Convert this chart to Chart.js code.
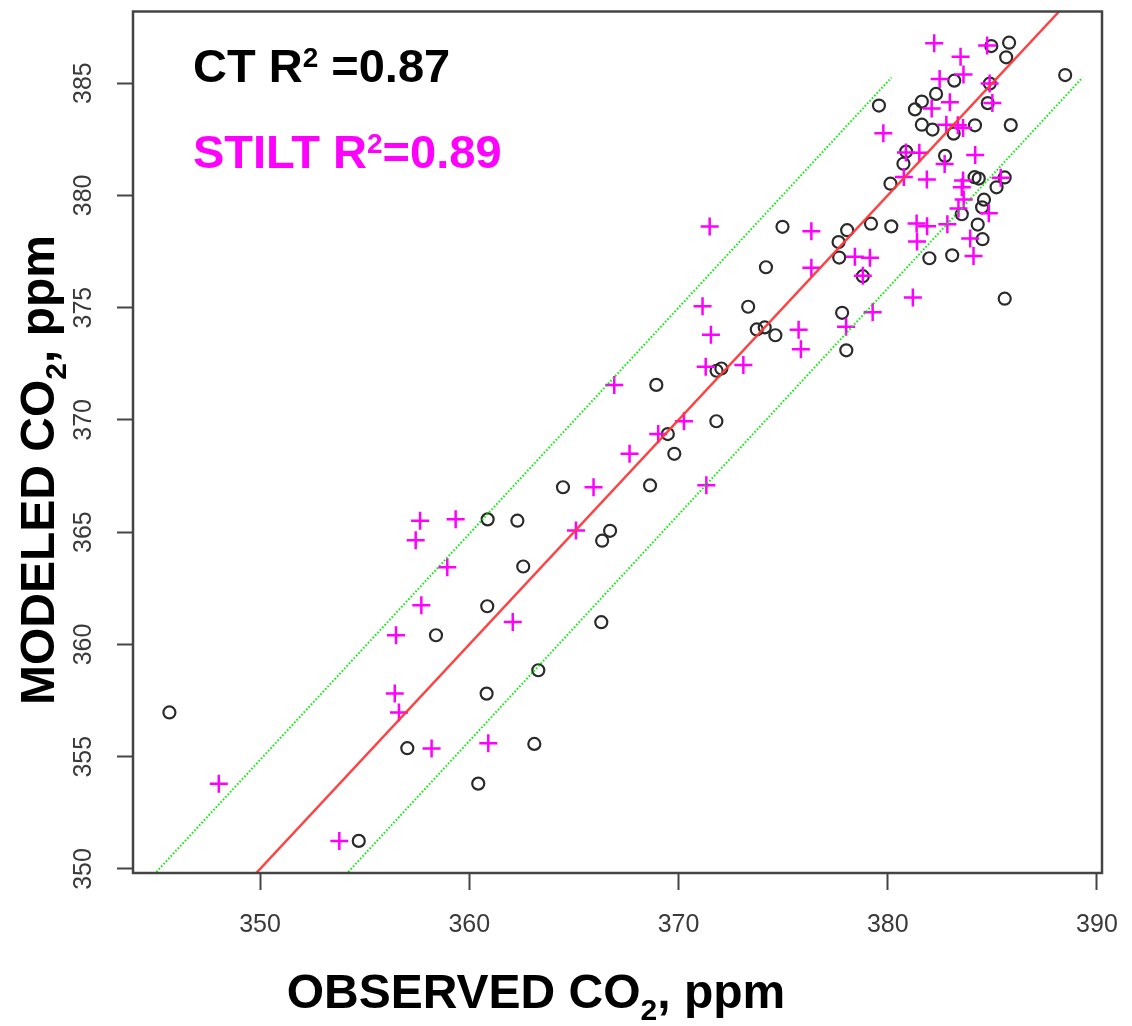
<!DOCTYPE html>
<html>
<head>
<meta charset="utf-8">
<script src="https://cdn.jsdelivr.net/npm/chart.js@4/dist/chart.umd.min.js"></script>
<style>
  html, body { margin: 0; padding: 0; background: #ffffff; }
  #wrap { width: 1132px; height: 1026px; }
</style>
</head>
<body>
<div id="wrap"><canvas id="co2Scatter" width="1132" height="1026"></canvas></div>
<script>
//
//
// Data - observed vs modeled CO2 (ppm)
var ctObserved = [345.67, 354.72, 357.04, 358.41, 360.43, 360.83, 360.86, 360.88, 362.30, 362.58,
  363.11, 363.30, 364.48, 366.35, 366.73, 366.31, 368.64, 368.94, 369.49, 369.80,
  371.81, 371.82, 372.05, 373.33, 373.74, 374.12, 374.18, 374.63, 374.97, 377.65,
  377.68, 377.82, 378.02, 378.06, 378.81, 379.20, 379.58, 380.13, 380.17, 380.75,
  380.88, 381.30, 381.63, 381.63, 381.99, 382.14, 382.31, 382.74, 383.08, 383.15,
  383.18, 383.54, 384.15, 384.17, 384.30, 384.35, 384.53, 384.51, 384.60, 384.78,
  384.88, 384.95, 385.20, 385.59, 385.59, 385.66, 385.80, 385.88, 388.48];
var ctModeled = [356.97, 351.25, 355.38, 360.41, 353.80, 357.81, 361.70, 365.57, 365.51, 363.47,
  355.57, 358.85, 367.00, 364.62, 365.06, 360.99, 367.08, 371.56, 369.37, 368.49,
  369.94, 372.19, 372.29, 375.04, 374.03, 374.12, 376.80, 373.77, 378.60, 377.92,
  377.23, 374.77, 373.10, 378.45, 376.40, 378.74, 384.00, 380.52, 378.62, 381.41,
  381.95, 383.83, 384.18, 383.15, 377.20, 382.93, 384.52, 381.76, 377.33, 382.75,
  385.11, 379.16, 380.81, 383.12, 378.70, 380.75, 378.05, 379.47, 379.81, 384.11,
  384.98, 386.65, 380.36, 380.80, 375.40, 386.15, 386.80, 383.13, 385.36];

var stiltObserved = [348.03, 353.79, 356.44, 356.50, 356.64, 357.44, 357.65, 357.71, 358.20, 358.95,
  359.35, 360.91, 362.08, 365.10, 365.94, 366.93, 367.66, 369.03, 370.26, 371.15,
  371.30, 371.33, 371.49, 371.55, 373.10, 375.74, 375.85, 376.35, 376.35, 378.01,
  378.43, 378.81, 379.15, 379.28, 379.79, 380.77, 380.87, 381.20, 381.38, 381.40,
  381.51, 381.87, 381.88, 382.10, 382.22, 382.48, 382.72, 382.85, 382.97, 382.80,
  383.35, 383.60, 383.38, 383.48, 383.54, 383.60, 383.62, 383.63, 383.94, 384.10,
  384.18, 384.75, 384.83, 384.87, 385.00, 385.40];
var stiltModeled = [353.80, 351.25, 357.81, 360.41, 356.97, 364.64, 365.51, 361.75, 355.37, 363.44,
  365.58, 355.60, 361.00, 365.07, 367.00, 371.56, 368.49, 369.37, 369.94, 375.06,
  372.37, 367.09, 378.61, 373.79, 372.45, 374.02, 373.15, 378.40, 376.78, 374.15,
  377.27, 376.42, 377.22, 374.79, 382.77, 380.82, 381.91, 375.45, 378.75, 377.95,
  381.90, 380.71, 378.62, 383.87, 386.78, 385.18, 381.40, 378.71, 384.15, 383.15,
  383.12, 383.00, 379.42, 386.17, 380.36, 380.66, 385.38, 379.82, 378.08, 377.30,
  381.80, 386.68, 379.20, 384.98, 384.11, 380.79];

//
// Reference lines (end points, ppm)
var oneToOneX = [349.82, 388.19];
var oneToOneY = [349.82, 388.19];
var upperBandX = [345.05, 380.18];
var upperBandY = [349.87, 385.25];
var lowerBandX = [354.22, 389.31];
var lowerBandY = [349.87, 385.25];

//
// Axes
var xTicks = [350, 360, 370, 380, 390];
var yTicks = [350, 355, 360, 365, 370, 375, 380, 385];
var xRange = [343.93, 390.24];
var yRange = [349.82, 388.19];

var FONT = '"Liberation Sans", Arial, Helvetica, sans-serif';

function toPoints(xs, ys){
  var points = [];
  for (var i = 0; i < xs.length; i++){
    points.push({ x: xs[i], y: ys[i] });
  }
  return points;
}

//
//
// Draw text made of pieces (for super / subscripts)
function drawPieces(ctx, pieces, x, y, centered){
  var total = 0;
  pieces.forEach(function(p){
    ctx.font = 'bold ' + p.size + 'px ' + FONT;
    p.w = ctx.measureText(p.text).width;
    total += p.w;
  });
  var cx = centered ? x - total / 2 : x;
  pieces.forEach(function(p){
    ctx.font = 'bold ' + p.size + 'px ' + FONT;
    ctx.fillText(p.text, cx, y + p.dy);
    cx += p.w;
  });
}

//
//
// Box, R^2 labels and axis titles
var frameAndTitles = {
  id: 'frameAndTitles',
  afterDraw: function(chart){
    var ctx = chart.ctx;
    var area = chart.chartArea;

    ctx.save();
    ctx.strokeStyle = '#444444';
    ctx.lineWidth = 2.5;
    ctx.strokeRect(area.left, area.top, area.right - area.left, area.bottom - area.top);

    ctx.textBaseline = 'alphabetic';
    ctx.textAlign = 'left';

    ctx.fillStyle = '#000000';
    drawPieces(ctx, [
      { text: 'CT R', size: 47, dy: 0 },
      { text: '2', size: 28, dy: -15 },
      { text: ' =0.87', size: 47, dy: 0 }
    ], 193, 82, false);

    ctx.fillStyle = '#ff00ff';
    drawPieces(ctx, [
      { text: 'STILT R', size: 47, dy: 0 },
      { text: '2', size: 28, dy: -15 },
      { text: '=0.89', size: 47, dy: 0 }
    ], 193, 168, false);

    ctx.fillStyle = '#000000';
    drawPieces(ctx, [
      { text: 'OBSERVED CO', size: 48, dy: 0 },
      { text: '2', size: 30, dy: 12 },
      { text: ', ppm', size: 48, dy: 0 }
    ], 536, 1008, true);

    ctx.translate(54, 470);
    ctx.rotate(-Math.PI / 2);
    drawPieces(ctx, [
      { text: 'MODELED CO', size: 48, dy: 0 },
      { text: '2', size: 30, dy: 12 },
      { text: ', ppm', size: 48, dy: 0 }
    ], 0, 0, true);

    ctx.restore();
  }
};

//
//
// Draw Chart
var co2_canvas = document.getElementById('co2Scatter');
var co2_ctx = co2_canvas.getContext('2d');

new Chart(co2_ctx, {
  type: 'scatter',
  data: {
    datasets: [
      {
        label: '1:1',
        data: toPoints(oneToOneX, oneToOneY),
        showLine: true,
        borderColor: 'rgba(255, 55, 55, 0.95)',
        borderWidth: 2.5,
        pointRadius: 0,
        fill: false,
        order: 0
      },
      {
        label: 'upper',
        data: toPoints(upperBandX, upperBandY),
        showLine: true,
        borderColor: '#00ee00',
        borderWidth: 2,
        borderDash: [1.5, 2],
        pointRadius: 0,
        fill: false,
        order: 0
      },
      {
        label: 'lower',
        data: toPoints(lowerBandX, lowerBandY),
        showLine: true,
        borderColor: '#00ee00',
        borderWidth: 2,
        borderDash: [1.5, 2],
        pointRadius: 0,
        fill: false,
        order: 0
      },
      {
        label: 'STILT',
        data: toPoints(stiltObserved, stiltModeled),
        pointStyle: 'cross',
        pointRadius: 9,
        borderColor: '#ff00ff',
        borderWidth: 2.5,
        order: 1
      },
      {
        label: 'CT',
        data: toPoints(ctObserved, ctModeled),
        pointStyle: 'circle',
        pointRadius: 6,
        backgroundColor: 'rgba(0, 0, 0, 0)',
        borderColor: '#2a2a2a',
        borderWidth: 2.2,
        order: 2
      }
    ]
  },
  options: {
    responsive: false,
    animation: false,
    events: [],
    layout: {
      padding: { top: 7, right: 30, left: 0, bottom: 0 }
    },
    plugins: {
      legend: { display: false },
      tooltip: { enabled: false }
    },
    scales: {
      x: {
        type: 'linear',
        min: xRange[0],
        max: xRange[1],
        afterBuildTicks: function(scale){
          scale.ticks = xTicks.map(function(v){ return { value: v }; });
        },
        afterFit: function(scale){
          scale.height = 153;
          scale.paddingLeft = 0;
          scale.paddingRight = 0;
        },
        grid: {
          drawOnChartArea: false,
          drawTicks: true,
          tickLength: 17,
          tickColor: '#444444',
          tickWidth: 2
        },
        border: { display: false },
        ticks: {
          autoSkip: false,
          minRotation: 0,
          maxRotation: 0,
          padding: 20,
          color: '#3a3a3a',
          font: { family: FONT, size: 25 }
        }
      },
      y: {
        type: 'linear',
        min: yRange[0],
        max: yRange[1],
        afterBuildTicks: function(scale){
          scale.ticks = yTicks.map(function(v){ return { value: v }; });
        },
        afterFit: function(scale){
          scale.width = 133;
          scale.paddingTop = 0;
          scale.paddingBottom = 0;
        },
        grid: {
          drawOnChartArea: false,
          drawTicks: true,
          tickLength: 16,
          tickColor: '#444444',
          tickWidth: 2
        },
        border: { display: false },
        ticks: {
          autoSkip: false,
          minRotation: 90,
          maxRotation: 90,
          crossAlign: 'center',
          padding: 12,
          color: '#3a3a3a',
          font: { family: FONT, size: 25 }
        }
      }
    }
  },
  plugins: [frameAndTitles]
});
</script>
</body>
</html>
